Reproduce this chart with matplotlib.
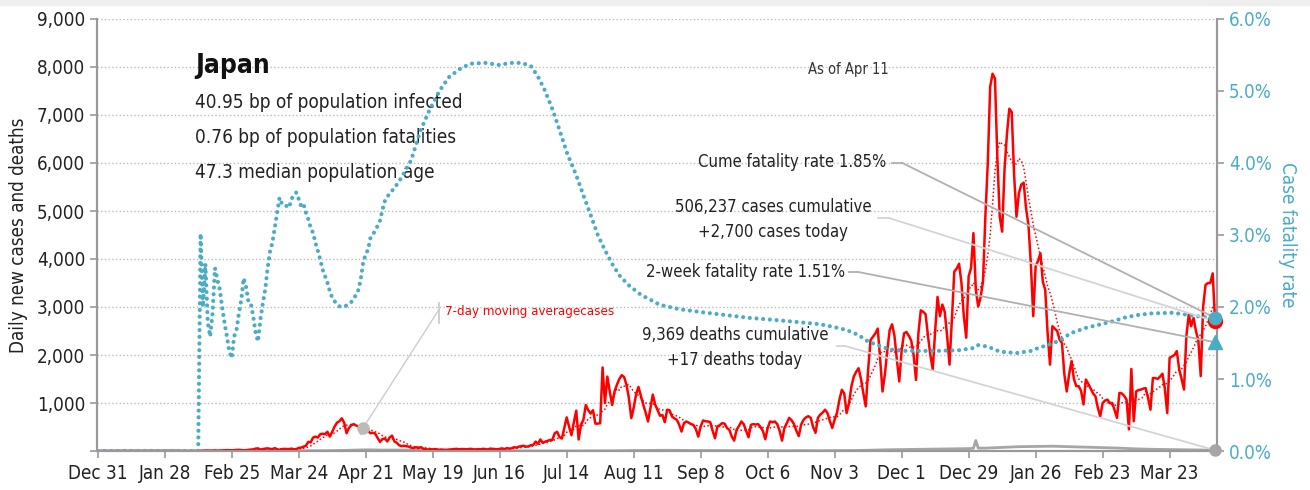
import pandas as pd
import matplotlib
matplotlib.use('Agg')
import matplotlib.pyplot as plt
import matplotlib.dates as mdates
from matplotlib.ticker import FuncFormatter, MultipleLocator
from matplotlib.patches import Rectangle

plt.rcParams['font.family'] = ['DejaVu Sans']
plt.rcParams['font.stretch'] = 'condensed'

# daily new cases, Dec 31 2019 .. Apr 11 2021
cases_dec19 = [0]
cases_jan20 = [0,0,0,0,0,0,0,0,0,0,0,0,0,0,1,0,0,0,0,0,0,0,0,1,1,0,0,1,2,3,2]
cases_feb20 = [3,2,1,2,1,0,1,0,1,0,3,4,5,9,10,6,7,12,6,9,11,13,18,15,14,18,20,25,20]
cases_mar20 = [14,18,25,30,33,50,55,30,40,50,55,45,40,60,35,25,40,45,40,40,50,35,40,65,70,90,110,190,180,280,300]
cases_apr20 = [280,350,360,350,400,300,400,510,590,620,680,590,370,480,540,560,530,510,370,420,480,420,370,380,360,270,190,250,260,200]
cases_may20 = [280,320,200,170,120,100,110,100,90,70,60,80,60,80,50,40,30,40,30,40,30,25,30,20,25,30,35,40,45,35,40]
cases_jun20 = [40,35,40,45,35,30,40,35,45,40,30,50,45,40,35,45,55,40,60,50,55,80,70,90,100,110,90,95,120,125]
cases_jul20 = [195,150,240,170,195,210,230,230,370,400,290,260,480,700,510,330,600,840,240,550,650,960,850,780,850,570,570,580,1740,1000,1550]
cases_aug20 = [1240,960,1240,1380,1500,1580,1540,1380,1100,685,900,1175,1335,1150,965,800,615,900,1175,965,850,735,750,600,860,850,720,680,650,550,405]
cases_sep20 = [580,615,590,560,540,455,300,510,636,620,615,600,420,265,510,540,580,570,480,440,300,217,440,520,615,560,420,287,545,560]
cases_oct20 = [550,560,500,420,245,480,615,600,615,560,420,217,480,580,690,640,560,420,310,550,650,700,725,690,500,380,690,760,800,860,790]
cases_nov20 = [620,480,655,800,1070,1275,1200,790,1000,1345,1550,1650,1725,1500,1200,930,1700,2310,2380,2450,2550,1930,1240,1600,2100,2520,2640,2400,1900,1450]
cases_dec20 = [2100,2450,2480,2400,2300,2000,1480,2450,2930,2900,2850,2400,2000,1700,2500,3210,2810,3050,2900,2400,1800,2740,3740,3800,3900,3500,2800,2360,3640,3810,4540]
cases_jan21 = [3360,3010,3200,3530,4900,6000,7590,7860,7760,6100,4880,4570,5870,6600,7130,7060,5760,4880,5370,5550,5590,5050,4710,3900,2810,3850,3960,4120,3530,3360,2460]
cases_feb21 = [1800,2600,2550,2500,2320,2250,1600,1240,1600,1870,1500,1350,1350,1250,970,1490,1400,1300,1200,1140,900,720,1000,1050,1070,1000,1000,850]
cases_mar21 = [690,1210,1200,1150,1070,450,1710,620,1240,1270,1280,1300,1310,1100,860,1520,1520,1500,1550,1610,1300,790,1940,1970,2000,2080,1700,1500,1280,2400,2840]
cases_apr21 = [2600,2770,2500,2300,1560,3000,3460,3500,3500,3700,2700]

# daily deaths (sampled days after Dec 31 2019)
deaths_day = [0,42,56,63,70,77,84,91,98,105,112,119,126,133,140,147,154,161,168,182,
              196,210,217,224,231,238,245,252,259,266,273,280,287,294,301,308,315,322,329,336,
              343,350,357,364,366,367,368,371,378,385,392,399,406,413,420,427,434,441,448,455,462,467]
deaths_val = [0,0,1,1,2,1,3,5,8,15,25,20,20,15,10,8,5,2,2,1,
              1,3,5,10,12,15,12,10,10,8,8,7,6,8,6,8,10,15,25,30,
              35,40,45,50,55,220,60,60,75,90,95,100,90,80,70,60,45,35,30,25,20,17]

# cumulative case fatality rate, %
cfr_day = [0,42] + list(range(43,103)) + [104,106,108,109,110,111,112,113,114,116,118,119,120,122,124,
           127,131,135,139,143,147,152,156,162,168,172,177,181,
           184,187,190,193,196,200,203,206,209,212,215,218,222,227,235,243,252,262,272,283,293,302,
           308,313,318,322,326,331,338,350,360,366,368,372,377,384,390,393,397,401,407,413,418,424,430,435,440,449,456,461,467]
cfr_pct = [0,0,
           3.02,2.0,2.6,1.78,1.59,1.91,2.54,2.38,2.25,2.0,
           1.78,1.59,1.38,1.29,1.59,1.68,1.91,2.1,2.4,2.28,
           2.07,2.05,1.87,1.64,1.52,1.83,2.05,2.24,2.54,2.77,
           2.89,3.1,3.31,3.52,3.43,3.43,3.4,3.38,3.5,3.56,
           3.59,3.5,3.4,3.43,3.31,3.22,3.1,3.03,2.89,2.78,
           2.66,2.52,2.43,2.34,2.22,2.13,2.08,2.04,2.01,2.0,
           2.02,2.07,2.17,2.24,2.4,2.63,2.73,2.8,2.96,3.06,3.2,3.35,3.47,3.58,3.65,
           3.8,4.04,4.46,4.76,5.01,5.2,5.32,5.38,5.39,5.36,5.39,5.39,5.35,
           5.2,5.0,4.75,4.46,4.15,3.83,3.55,3.28,3.0,2.79,2.6,2.44,2.3,2.17,2.03,1.97,1.93,1.89,1.85,1.82,1.79,1.76,
           1.72,1.68,1.61,1.52,1.47,1.41,1.39,1.39,1.40,1.43,1.47,1.45,1.38,1.36,1.39,1.43,1.47,1.52,1.64,1.71,1.75,1.8,1.86,1.89,1.91,1.92,1.89,1.865,1.85]
cfr_2week = 1.51

cases = (cases_dec19 + cases_jan20 + cases_feb20 + cases_mar20 + cases_apr20 + cases_may20 + cases_jun20 +
         cases_jul20 + cases_aug20 + cases_sep20 + cases_oct20 + cases_nov20 + cases_dec20 +
         cases_jan21 + cases_feb21 + cases_mar21 + cases_apr21)
start = pd.Timestamp('2019-12-31')
days = pd.date_range(start, periods=len(cases), freq='D')
s = pd.Series(cases, index=days)
ma = s.rolling(7).mean()
last = days[-1]
d_dates = start + pd.to_timedelta(deaths_day, unit='D')
c_dates = start + pd.to_timedelta(cfr_day, unit='D')

RED = '#ff0000'
BLUE = '#4bacc6'
GREY = '#a6a6a6'

fig = plt.figure(figsize=(13.1, 4.9), dpi=100)
fig.patches.append(Rectangle((0, 1 - 5/490), 1, 5/490, transform=fig.transFigure, color='#efefef', zorder=0))
ax = fig.add_axes([97/1310, 39/490, 1120/1310, 432/490])
ax2 = ax.twinx()

ax.plot(d_dates, deaths_val, color=GREY, lw=2, zorder=2)
ax.plot(days, cases, color=RED, lw=1.8, zorder=3)
ax.plot(days, ma, color=RED, lw=1.1, ls=(0, (1, 1.5)), zorder=3)
ax2.plot(c_dates, [v/100 for v in cfr_pct], color=BLUE, lw=3, ls=(0, (0.01, 1.6)), dash_capstyle='round')

ax.set_xlim(start - pd.Timedelta(days=0.3), last + pd.Timedelta(days=0.8))
ax.set_ylim(0, 9000)
ax2.set_ylim(0, 0.06)
ax.yaxis.set_major_locator(MultipleLocator(1000))
ax.yaxis.set_major_formatter(FuncFormatter(lambda v, p: '' if v == 0 else f'{v:,.0f}'))
ax2.yaxis.set_major_locator(MultipleLocator(0.01))
ax2.yaxis.set_major_formatter(FuncFormatter(lambda v, p: f'{v*100:.1f}%'))
ax.set_xticks(pd.date_range(start, periods=17, freq='28D'))
ax.xaxis.set_major_formatter(mdates.DateFormatter('%b %-d'))

ax.grid(axis='y', color='#bbbbbb', ls=':', lw=1)
for a in (ax, ax2):
    a.spines['top'].set_visible(False)
    for sp in ('left', 'right', 'bottom'):
        a.spines[sp].set_color('#999999')
        a.spines[sp].set_linewidth(1.5)
ax.tick_params(axis='both', colors='#999999', labelcolor='#222222', labelsize=13.5, length=5, width=1.2)
ax.tick_params(axis='x', pad=4)
ax2.tick_params(axis='y', colors='#999999', labelcolor=BLUE, labelsize=13.5, length=5, width=1.2)
ax.set_ylabel('Daily new cases and deaths', fontsize=13.5, color='#222222', labelpad=6)
ax2.set_ylabel('Case fatality rate', fontsize=13.5, color=BLUE, rotation=270, labelpad=18)

# info block
ax.text(0.0875, 0.891, 'Japan', transform=ax.transAxes, fontsize=19, fontweight='bold', va='center', color='#111111')
info = ['40.95 bp of population infected', '0.76 bp of population fatalities', '47.3 median population age']
for i, t in enumerate(info):
    ax.text(0.0875, 0.806 - i*0.081, t, transform=ax.transAxes, fontsize=13.6, va='center', color='#222222')
ax.text(0.6705, 0.882, 'As of Apr 11', transform=ax.transAxes, fontsize=10.5, ha='center', va='center', color='#333333')

# end markers
lastn = mdates.date2num(last)
ax2.plot(last, cases[-1] / 9000 * 0.06, 'o', color=RED, ms=10, clip_on=False, zorder=5)
ax2.plot(last, cfr_pct[-1]/100, 'o', color=BLUE, ms=9, clip_on=False, zorder=6)
ax2.plot(last, cfr_2week/100, '^', color=BLUE, ms=10, clip_on=False, zorder=6)
ax2.plot(last, deaths_val[-1] / 9000 * 0.06, 'o', color=GREY, ms=8, clip_on=False, zorder=6)

def leader(x0, x1, y, end_y, color):
    ax2.plot([x0, x1], [y, y], transform=ax2.transAxes, color=color, lw=1.3, zorder=4)
    ax2.annotate('', xy=(lastn, end_y), xycoords='data', xytext=(x1, y), textcoords='axes fraction',
                 arrowprops=dict(arrowstyle='-', color=color, lw=1.3, shrinkA=0, shrinkB=0), zorder=4)

DARKL = '#b0b0b0'
LIGHTL = '#d4d4d4'
ax2.text(0.705, 0.669, 'Cume fatality rate 1.85%', transform=ax2.transAxes, fontsize=12, ha='right', va='center', color='#222222')
leader(0.7096, 0.7185, 0.6674, cfr_pct[-1]/100, DARKL)
ax2.text(0.6036, 0.535, '506,237 cases cumulative\n+2,700 cases today', transform=ax2.transAxes, fontsize=12,
         ha='center', va='center', multialignment='center', linespacing=1.5, color='#222222')
leader(0.6973, 0.7071, 0.5394, cases[-1] / 9000 * 0.06, LIGHTL)
ax2.text(0.668, 0.414, '2-week fatality rate 1.51%', transform=ax2.transAxes, fontsize=12, ha='right', va='center', color='#222222')
leader(0.6714, 0.6795, 0.4144, cfr_2week/100, DARKL)
ax2.text(0.5696, 0.2396, '9,369 deaths cumulative\n+17 deaths today', transform=ax2.transAxes, fontsize=12,
         ha='center', va='center', multialignment='center', linespacing=1.5, color='#222222')
leader(0.6604, 0.6679, 0.2431, deaths_val[-1] / 9000 * 0.06, LIGHTL)

# moving average callout
ma_day = pd.Timestamp('2020-04-20')
ax.plot(ma_day, ma[ma_day], 'o', color='#bbbbbb', ms=8, zorder=4)
ax.plot([0.305, 0.305], [0.296, 0.3426], transform=ax.transAxes, color='#cccccc', lw=1.3)
ax.annotate('', xy=(mdates.date2num(ma_day), ma[ma_day]), xycoords='data', xytext=(0.305, 0.326),
            textcoords='axes fraction', arrowprops=dict(arrowstyle='-', color='#cccccc', lw=1, shrinkA=0, shrinkB=0))
ax.text(0.3107, 0.3218, '7-day moving averagecases', transform=ax.transAxes, fontsize=9.5, color=RED, va='center')

fig.savefig('out.png', dpi=100)
